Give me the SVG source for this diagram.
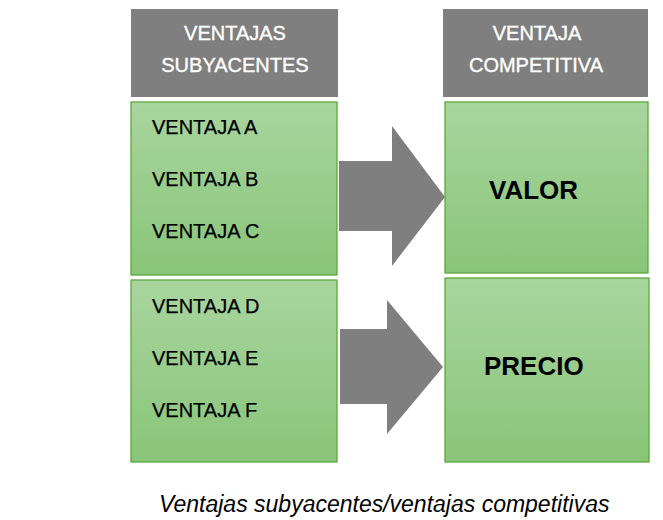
<svg xmlns="http://www.w3.org/2000/svg" width="663" height="520" viewBox="0 0 663 520">
<defs>
<linearGradient id="g" x1="0" y1="0" x2="0" y2="1">
<stop offset="0" stop-color="#a9d59f"/>
<stop offset="1" stop-color="#89c578"/>
</linearGradient>
<style>
.hdr{fill:#7f7f7f}
.box{fill:url(#g);stroke:#5aa83a;stroke-width:1.3}
.arr{fill:#7f7f7f}
.ht{font-family:"Liberation Sans",Arial,sans-serif;font-size:20px;fill:#ffffff;stroke:#ffffff;stroke-width:0.35;text-anchor:middle}
.it{font-family:"Liberation Sans",Arial,sans-serif;font-size:20px;fill:#000000;stroke:#000000;stroke-width:0.25}
.bt{font-family:"Liberation Sans",Arial,sans-serif;font-size:26px;font-weight:bold;fill:#000000}
.cap{font-family:"Liberation Sans",Arial,sans-serif;font-size:23px;font-style:italic;fill:#000000}
</style>
</defs>
<rect width="663" height="520" fill="#ffffff"/>
<g id="header-left">
<rect class="hdr" x="131" y="9" width="207" height="88"/>
<text class="ht" x="235" y="40">VENTAJAS</text>
<text class="ht" x="235" y="72">SUBYACENTES</text>
</g>
<g id="header-right">
<rect class="hdr" x="443" y="9" width="205" height="88"/>
<text class="ht" x="537" y="40">VENTAJA</text>
<text class="ht" x="536" y="72">COMPETITIVA</text>
</g>
<g id="box-abc">
<rect class="box" x="131" y="102" width="206" height="173"/>
<text class="it" x="152" y="134">VENTAJA A</text>
<text class="it" x="152" y="186">VENTAJA B</text>
<text class="it" x="152" y="238">VENTAJA C</text>
</g>
<g id="box-def">
<rect class="box" x="131" y="280" width="206" height="182"/>
<text class="it" x="152" y="313">VENTAJA D</text>
<text class="it" x="152" y="365">VENTAJA E</text>
<text class="it" x="152" y="417">VENTAJA F</text>
</g>
<g id="box-valor">
<rect class="box" x="445" y="102" width="203" height="171"/>
<text class="bt" x="489" y="199">VALOR</text>
</g>
<g id="box-precio">
<rect class="box" x="445" y="278" width="204" height="184"/>
<text class="bt" x="484" y="375">PRECIO</text>
</g>
<g id="connectors">
<polygon class="arr" points="339,161 392,161 392,126 445,197 392,266 392,231 339,231"/>
<polygon class="arr" points="340,329 387,329 387,300 443,367 387,434 387,404 340,404"/>
</g>
<text class="cap" x="159" y="512">Ventajas subyacentes/ventajas competitivas</text>
</svg>
